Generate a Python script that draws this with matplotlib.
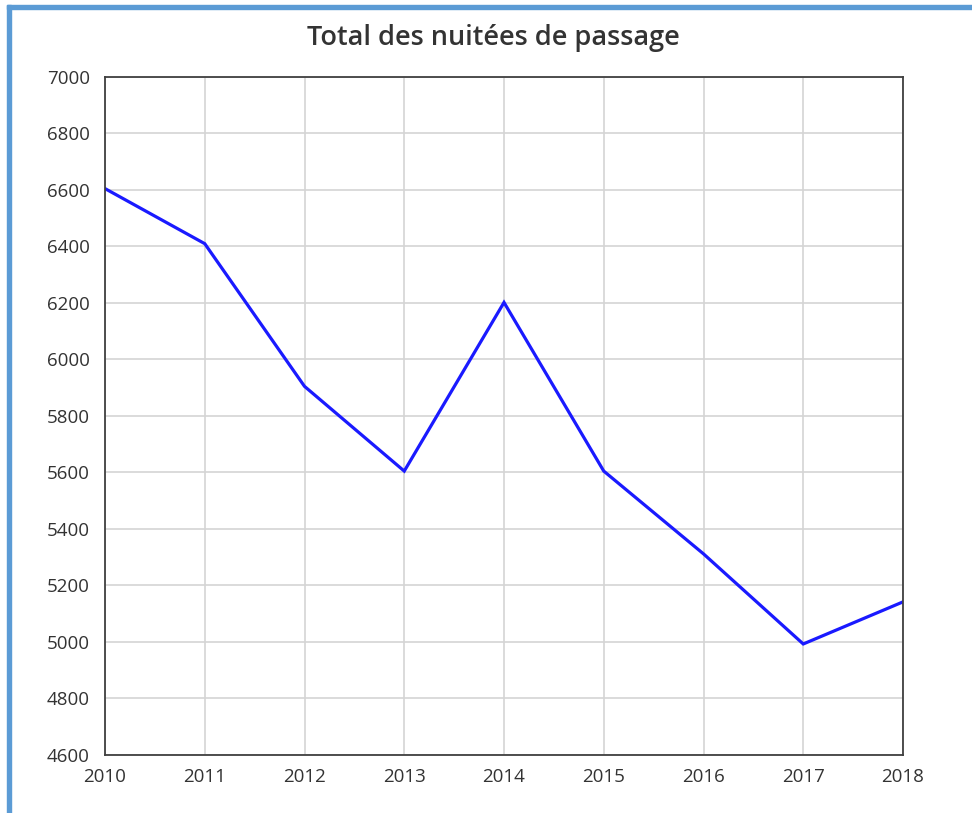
import matplotlib
matplotlib.use("Agg")
import matplotlib.pyplot as plt
from matplotlib.patches import Rectangle

# data
years = [2010, 2011, 2012, 2013, 2014, 2015, 2016, 2017, 2018]
nuitees = [6605, 6410, 5905, 5605, 6202, 5605, 5312, 4993, 5142]
title = "Total des nuitées de passage"
y_ticks = list(range(4600, 7001, 200))

plt.rcParams['font.family'] = ['Open Sans', 'DejaVu Sans']

fig = plt.figure(figsize=(9.72, 8.13), dpi=100)
ax = fig.add_axes([105 / 972, 1 - 755 / 813, 798 / 972, 678 / 813])

ax.plot(years, nuitees, color='#1a1aff', linewidth=2.3, solid_joinstyle='miter')

ax.set_xlim(2010, 2018)
ax.set_ylim(4600, 7000)
ax.set_xticks(years)
ax.set_yticks(y_ticks)
ax.grid(True, color='#d4d4d4', linewidth=1.2)
ax.set_axisbelow(True)
ax.tick_params(length=0, labelsize=13.5, labelcolor='#333333')
ax.tick_params(axis='y', pad=11)
ax.tick_params(axis='x', pad=9)
for s in ax.spines.values():
    s.set_color('#404040')
    s.set_linewidth(1.3)

fig.text(493 / 972, 1 - 38 / 813, title, ha='center', va='center',
         fontsize=19.5, fontweight='semibold', color='#333333')

# blue frame on left and top edge
fig.patches.append(Rectangle((7 / 972, 0), 4 / 972, 1 - 5 / 813,
                             transform=fig.transFigure, color='#5b9bd5'))
fig.patches.append(Rectangle((7 / 972, 1 - 9 / 813), 1 - 7 / 972, 4 / 813,
                             transform=fig.transFigure, color='#5b9bd5'))

fig.savefig("out.png", dpi=100)
